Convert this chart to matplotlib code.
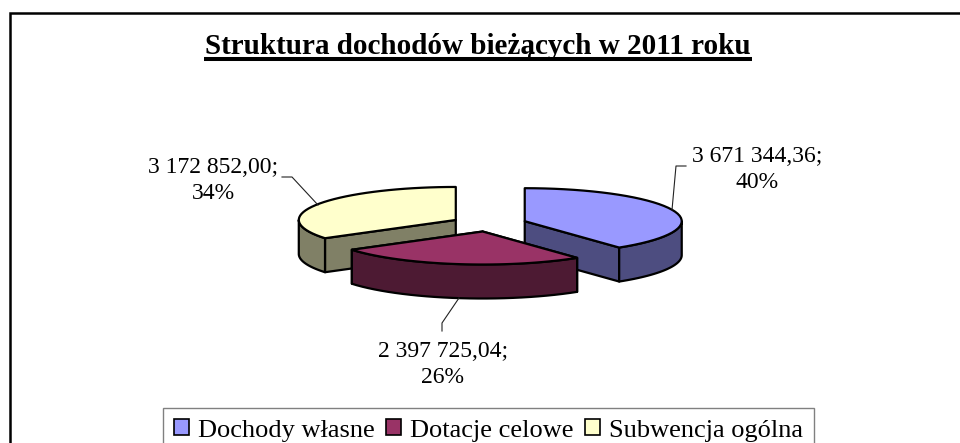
import numpy as np
import matplotlib
matplotlib.use("Agg")
import matplotlib.pyplot as plt
from matplotlib.patches import Polygon, Patch

# values
categories = ["Dochody własne", "Dotacje celowe", "Subwencja ogólna"]
values = [3671344.36, 2397725.04, 3172852.00]
value_labels = ["3 671 344,36;\n40%", "2 397 725,04;\n26%", "3 172 852,00;\n34%"]
top_colors = ["#9999FF", "#993366", "#FFFFCC"]
side_colors = ["#4D4D80", "#4D1A33", "#808066"]
title = "Struktura dochodów bieżących w 2011 roku"

# the pie is drawn by hand, matplotlib has no 3d pie
cx, cy = 489, 223.7
rx, ry = 157, 33
depth = 34
explode = 0.24
edge = 1.6

plt.rcParams["font.family"] = ["Liberation Serif", "DejaVu Serif"]
fig = plt.figure(figsize=(9.6, 4.43), dpi=100)
ax = fig.add_axes([0, 0, 1, 1])
ax.set_xlim(0, 960)
ax.set_ylim(443, 0)
ax.axis("off")

# frame of the chart, only left and top edges are inside the picture
ax.plot([10, 10, 960], [443, 13, 13], color="black", lw=1.8, solid_joinstyle="miter")

angles = np.cumsum([0] + values) / sum(values) * 2 * np.pi


def point(ox, oy, a):
    return ox + rx * np.sin(a), oy - ry * np.cos(a)


wedges = []
for i in range(len(values)):
    start, end = angles[i], angles[i + 1]
    mid = (start + end) / 2
    ox = cx + explode * rx * np.sin(mid)
    oy = cy - explode * ry * np.cos(mid)
    wedges.append((i, start, end, ox, oy))

# back wedges first, the lower one goes on top
for i, start, end, ox, oy in [wedges[2], wedges[0], wedges[1]]:
    arc = np.linspace(start, end, 40)
    xs, ys = point(ox, oy, arc)

    # side faces: the two cut faces, then the rim
    for a in [start, end]:
        px, py = point(ox, oy, a)
        if np.cos(a) < 0.99:
            ax.add_patch(Polygon([(ox, oy), (px, py), (px, py + depth), (ox, oy + depth)],
                                 fc=side_colors[i], ec="black", lw=edge, joinstyle="round"))
    # only the front half of the ellipse has a visible rim
    rim_arc = np.linspace(max(start, np.pi / 2), min(end, 3 * np.pi / 2), 30)
    rim_x, rim_y = point(ox, oy, rim_arc)
    rim = list(zip(rim_x, rim_y)) + list(zip(rim_x[::-1], rim_y[::-1] + depth))
    ax.add_patch(Polygon(rim, fc=side_colors[i], ec="black", lw=edge, joinstyle="round"))

    top = [(ox, oy)] + list(zip(xs, ys))
    ax.add_patch(Polygon(top, fc=top_colors[i], ec="black", lw=edge, joinstyle="round"))

# title and its underline
ax.text(478, 54, title, ha="center", va="baseline", fontsize=21, fontweight="bold", color="black")
ax.plot([204, 752], [59, 59], color="black", lw=2.9, solid_capstyle="butt")

# data labels with leader lines
label_pos = [(757, 169.5), (443, 364.5), (213, 180.5)]
leaders = [
    ([672, 676, 686], [210, 166, 166]),
    ([459, 442, 442], [298, 323, 331]),
    ([318, 292, 282], [205, 177, 177]),
]
for i in range(3):
    ax.text(label_pos[i][0], label_pos[i][1], value_labels[i], ha="center", va="center",
            fontsize=17, color="black", linespacing=1.37)
    ax.plot(leaders[i][0], leaders[i][1], color="#222222", lw=0.8)

handles = [Patch(fc=top_colors[i], ec="black", lw=1.2) for i in range(3)]
leg = ax.legend(handles, categories, loc="upper center", bbox_to_anchor=(488.5 / 960, 1 - 408 / 443),
                ncol=3, fontsize=19, frameon=True, fancybox=False, edgecolor="#808080",
                framealpha=1, handlelength=0.57, handleheight=0.57, handletextpad=0.34,
                columnspacing=0.42, borderpad=0.42, borderaxespad=0)
leg.get_frame().set_linewidth(1)

fig.savefig("out.png", dpi=100)
